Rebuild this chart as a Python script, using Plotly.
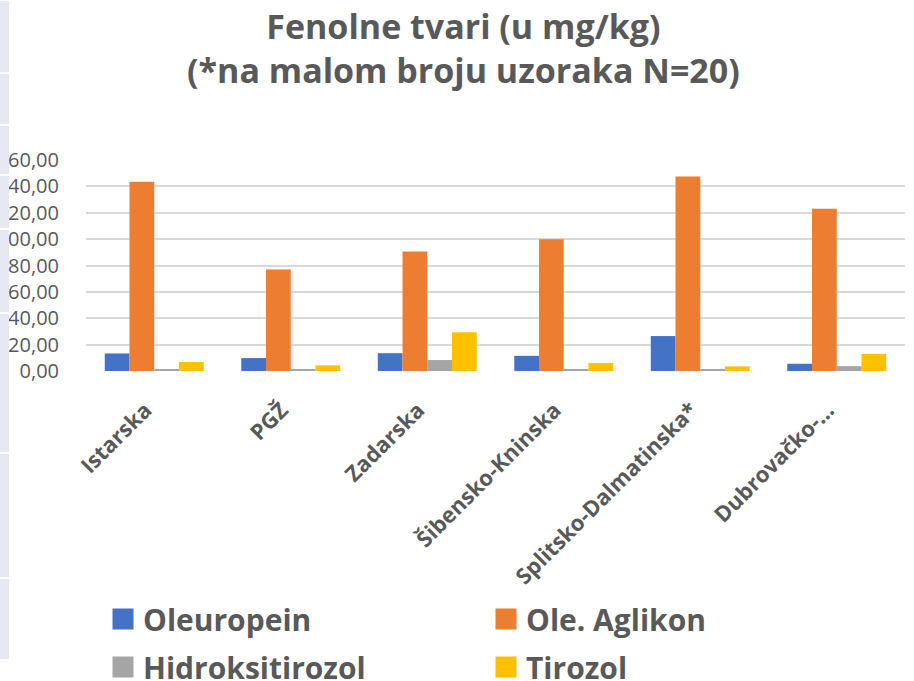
import plotly.graph_objects as go

# Županije (kategorije)
zupanije = ["Istarska", "PGŽ", "Zadarska", "Šibensko-Kninska",
            "Splitsko-Dalmatinska*", "Dubrovačko-..."]

# Vrijednosti fenolnih tvari (mg/kg), očitane s grafa
oleuropein = [13.3, 9.8, 13.5, 11.5, 26.5, 5.5]
ole_aglikon = [143.5, 76.9, 90.7, 100.0, 147.5, 123.0]
hidroksitirozol = [1.5, 1.5, 8.3, 1.5, 1.5, 3.7]
tirozol = [6.8, 4.3, 29.3, 6.0, 3.5, 13.0]

y_ticks = [0, 20, 40, 60, 80, 100, 120, 140, 160]
y_tick_labels = ["0,00", "20,00", "40,00", "60,00", "80,00",
                 "100,00", "120,00", "140,00", "160,00"]

series = [
    ("Oleuropein", oleuropein, "#4472C4", "legend"),
    ("Ole. Aglikon", ole_aglikon, "#ED7D31", "legend"),
    ("Hidroksitirozol", hidroksitirozol, "#A5A5A5", "legend2"),
    ("Tirozol", tirozol, "#FFC000", "legend2"),
]

W, H = 914, 681
ML, MR, MT, MB = 86, 9, 160, 310
pw = W - ML - MR
ph = H - MT - MB

fig = go.Figure()
for name, vals, color, leg in series:
    fig.add_trace(go.Bar(
        x=zupanije, y=vals, name=name, showlegend=False,
        marker=dict(color=color, line=dict(width=0)),
    ))
# legenda s većim kvadratićima
for name, vals, color, leg in series:
    fig.add_trace(go.Scatter(
        x=[None], y=[None], mode="markers", name=name, legend=leg,
        marker=dict(symbol="square", size=16, color=color,
                    line=dict(width=5, color=color)),
    ))

grey = "#595959"
legend_font = dict(family="Open Sans", size=30, color=grey, weight="bold")

fig.update_layout(
    width=W, height=H,
    margin=dict(l=ML, r=MR, t=MT, b=MB),
    paper_bgcolor="white", plot_bgcolor="white",
    barmode="group", bargap=0.275, bargroupgap=0,
    title=dict(
        text="Fenolne tvari (u mg/kg)<br>(*na malom broju uzoraka N=20)",
        x=0.507, xanchor="center", y=0.943, yanchor="top",
        font=dict(family="Open Sans", size=34, color=grey, weight="bold"),
    ),
    xaxis=dict(
        tickangle=-45, automargin=False,
        tickfont=dict(family="Open Sans", size=22, color=grey, weight="bold"),
        showline=False, showgrid=False, ticks="",
        ticklabelstandoff=21, ticklabelshift=-9,
    ),
    yaxis=dict(
        range=[0, 160], tickvals=y_ticks, ticktext=y_tick_labels,
        automargin=False,
        tickfont=dict(family="Open Sans", size=20, color=grey),
        gridcolor="#D9D9D9", gridwidth=2, zeroline=False,
        ticklabelstandoff=26,
    ),
    legend=dict(
        orientation="h", xref="container", yref="container",
        x=103 / W, xanchor="left", y=1 - 619 / H, yanchor="middle",
        entrywidth=338, entrywidthmode="pixels",
        font=legend_font, bgcolor="rgba(0,0,0,0)",
    ),
    legend2=dict(
        orientation="h", xref="container", yref="container",
        x=103 / W, xanchor="left", y=1 - 667 / H, yanchor="middle",
        entrywidth=338, entrywidthmode="pixels",
        font=legend_font, bgcolor="rgba(0,0,0,0)",
    ),
)

# svijetla traka uz lijevi rub (dio slajda)
edges = [0, 73, 125, 175, 229, 313, 453, 578, 660]
for top, bot in zip(edges[:-1], edges[1:]):
    fig.add_shape(
        type="rect", xref="paper", yref="paper", layer="above",
        x0=(0 - ML) / pw, x1=(9 - ML) / pw,
        y0=(H - MB - bot + 1) / ph, y1=(H - MB - top - 1) / ph,
        fillcolor="#E6E8F4", line=dict(width=0),
    )

fig.write_html("out.html", config={"displayModeBar": False},
               post_script="document.body.style.margin='0';")
